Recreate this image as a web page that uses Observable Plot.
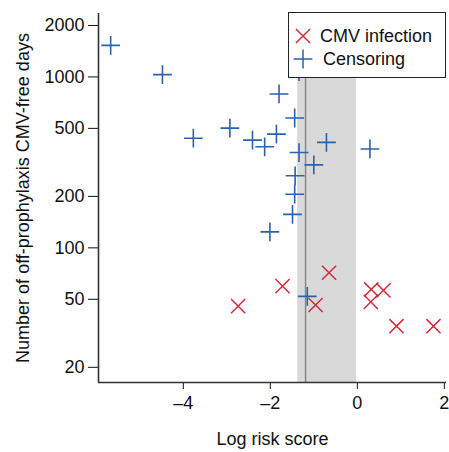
<!DOCTYPE html>
<html>
<head>
<meta charset="utf-8">
<script src="https://cdn.jsdelivr.net/npm/d3@7"></script>
<script src="https://cdn.jsdelivr.net/npm/@observablehq/plot@0.6"></script>
<style>
  body { margin: 0; background: #fff; }
  #wrap { position: relative; width: 449px; height: 452px; font-family: "Liberation Sans", Arial, sans-serif; }
  #wrap svg text { font-size: 18px; fill: #111; }
  #legend { position: absolute; left: 288px; top: 12px; width: 158px; height: 66px; background: #fff; border: 1.3px solid #222; box-sizing: border-box; font-size: 18px; color: #111; }
  #legend .row { position: absolute; left: 0; display: flex; align-items: center; }
  #legend svg { display: block; }
</style>
</head>
<body>
<div id="wrap"></div>
<script>
// Censoring (blue +)
const censorX = [-5.67, -4.48, -1.34, -1.80, -1.44, -3.77, -2.93, -2.41, -2.13, -1.86, -1.34, -0.71, 0.29, -1.00, -1.43, -1.44, -1.49, -2.01, -1.15];
const censorY = [1530, 1032, 1075, 795, 575, 438, 502, 427, 390, 463, 361, 414, 379, 306, 264, 206, 157, 124, 52];
// CMV infection (red x)
const cmvX = [-2.74, -1.72, -0.65, -0.96, 0.32, 0.60, 0.31, 0.90, 1.75];
const cmvY = [45.6, 59.7, 71.5, 46.3, 57.1, 56.4, 48.3, 34.8, 34.8];
// shaded interval and threshold line
const bandStart = [-1.37];
const bandEnd = [-0.02];
const threshold = [-1.19];
const xTicks = [-4, -2, 0, 2];
const yTicks = [20, 50, 100, 200, 500, 1000, 2000];
const seriesNames = ["CMV infection", "Censoring"];

const blue = "#2a62ae", red = "#d42a3a";
const xDomain = [-5.95, 2.05], yDomain = [16.3, 2350];

const censor = censorX.map((x, i) => ({x, y: censorY[i]}));
const cmv = cmvX.map((x, i) => ({x, y: cmvY[i]}));
const band = bandStart.map((s, i) => ({x1: s, x2: bandEnd[i]}));

const chart = Plot.plot({
  width: 449,
  height: 452,
  marginLeft: 98,
  marginRight: 3,
  marginTop: 13,
  marginBottom: 70,
  style: {fontFamily: '"Liberation Sans", Arial, sans-serif', fontSize: "18px", color: "#111", background: "#fff"},
  x: {domain: xDomain, ticks: xTicks, tickFormat: d => d < 0 ? "\u2013" + Math.abs(d) : String(d), tickSize: 7, tickPadding: 7, label: "Log risk score", labelAnchor: "center", labelOffset: 62},
  y: {type: "log", domain: yDomain, ticks: yTicks, tickFormat: d => String(d), tickSize: 10, tickPadding: 4, label: "Number of off-prophylaxis CMV-free days", labelAnchor: "center", labelOffset: 82},
  marks: [
    Plot.rect(band, {x1: "x1", x2: "x2", fill: "#d9d9d9"}),
    Plot.ruleX(threshold, {stroke: "#888", strokeWidth: 1.5}),
    Plot.dot(censor, {x: "x", y: "y", symbol: "plus", r: 6.1, stroke: blue, strokeWidth: 1.6}),
    Plot.dot(cmv, {x: "x", y: "y", symbol: "times", r: 6.5, stroke: red, strokeWidth: 1.5}),
    Plot.ruleX([xDomain[0]], {stroke: "#333", strokeWidth: 1.6}),
    Plot.ruleY([yDomain[0]], {stroke: "#333", strokeWidth: 1.6})
  ]
});
chart.querySelectorAll('[aria-label="x-axis label"] text, [aria-label="y-axis label"] text').forEach(t => {
  t.textContent = t.textContent.replace(/\s*[→↑←↓]\s*/g, "");
});
const wrap = document.getElementById("wrap");
wrap.appendChild(chart);

// legend
const legend = document.createElement("div");
legend.id = "legend";
const syms = [d3.symbolTimes, d3.symbolPlus];
const cols = [red, blue];
const sizes = [Math.PI * 6.5 * 6.5, Math.PI * 6.1 * 6.1];
const tops = [12, 35];
const textLeft = [31, 34];
seriesNames.forEach((name, i) => {
  const row = document.createElement("div");
  row.className = "row";
  row.style.top = tops[i] + "px";
  const svg = d3.create("svg").attr("width", 30).attr("height", 22);
  svg.append("path").attr("transform", "translate(14,11)")
    .attr("d", d3.symbol(syms[i], sizes[i])())
    .attr("fill", "none").attr("stroke", cols[i]).attr("stroke-width", 1.5);
  row.appendChild(svg.node());
  const span = document.createElement("span");
  span.textContent = name;
  span.style.marginLeft = (textLeft[i] - 30) + "px";
  row.appendChild(span);
  legend.appendChild(row);
});
wrap.appendChild(legend);
</script>
</body>
</html>
